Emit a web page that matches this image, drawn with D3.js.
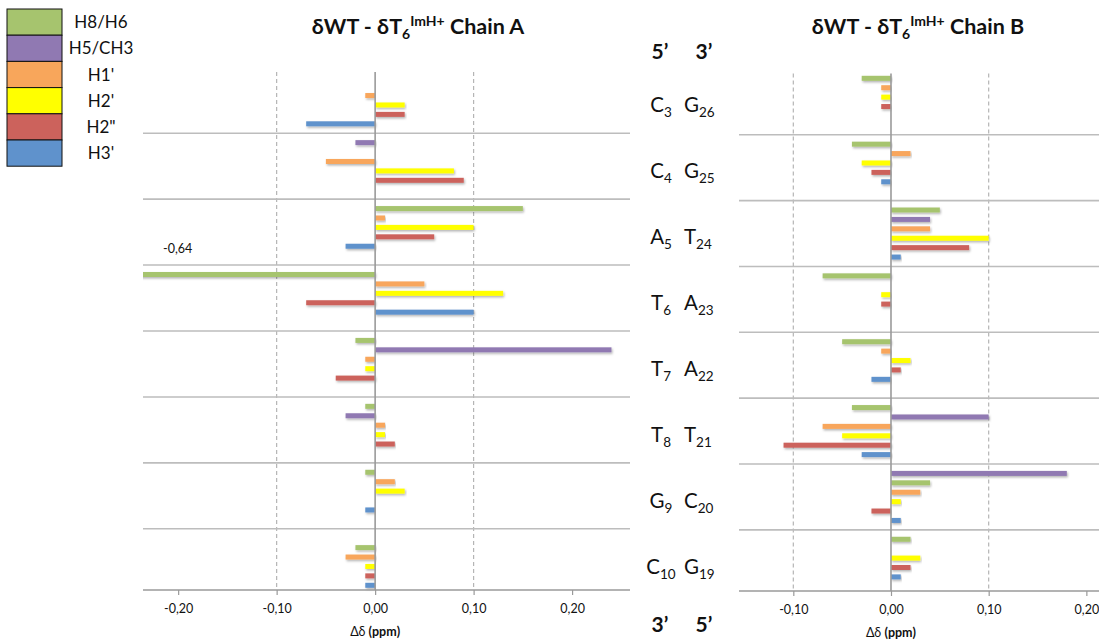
<!DOCTYPE html>
<html>
<head>
<meta charset="utf-8">
<script src="https://cdn.jsdelivr.net/npm/d3@7"></script>
<style>
  body { margin: 0; background: #fff; }
  svg { display: block; }
  text { font-family: Lato, "Open Sans", "DejaVu Sans", sans-serif; fill: #111; }
</style>
</head>
<body>
<svg id="chart" width="1099" height="644"></svg>
<script>
// Proton series and their colours
const protons = ["H8/H6", "H5/CH3", "H1'", "H2'", "H2\"", "H3'"];
const protonColors = ["#A6C46E", "#9079B2", "#F8A65B", "#FFFF00", "#CC625C", "#5F92CC"];

// Order of proton rows inside one residue block
const slotsC = ["H5/CH3", "H8/H6", "H1'", "H2'", "H2\"", "H3'"];
const slotsT = ["H8/H6", "H5/CH3", "H1'", "H2'", "H2\"", "H3'"];
const slotsPur = ["H8/H6", "H1'", "H2'", "H2\"", "H3'", "-"];
const slotsT6 = ["H8/H6", "H1'", "H2'", "H2\"", "H3'", "H5/CH3"];

// Chain A (5'→3'), Δδ in ppm per proton row, null = not observed
const residuesA = ["C3", "C4", "A5", "T6", "T7", "T8", "G9", "C10"];
const slotsA = [slotsC, slotsC, slotsPur, slotsT6, slotsT, slotsT, slotsPur, slotsC];
const shiftsA = [
  [null, null, -0.01, 0.03, 0.03, -0.07],
  [-0.02, null, -0.05, 0.08, 0.09, null],
  [0.15, 0.01, 0.10, 0.06, -0.03, null],
  [-0.64, 0.05, 0.13, -0.07, 0.10, null],
  [-0.02, 0.24, -0.01, -0.01, -0.04, null],
  [-0.01, -0.03, 0.01, 0.01, 0.02, null],
  [-0.01, 0.02, 0.03, null, -0.01, null],
  [null, -0.02, -0.03, -0.01, -0.01, -0.01]
];

// Chain B (3'→5' going down), paired with chain A residues
const residuesB = ["G26", "G25", "T24", "A23", "A22", "T21", "C20", "G19"];
const slotsB = [slotsPur, slotsPur, slotsT, slotsPur, slotsPur, slotsT, slotsC, slotsPur];
const shiftsB = [
  [-0.03, -0.01, -0.01, -0.01, null, null],
  [-0.04, 0.02, -0.03, -0.02, -0.01, null],
  [0.05, 0.04, 0.04, 0.10, 0.08, 0.01],
  [-0.07, null, -0.01, -0.01, null, null],
  [-0.05, -0.01, 0.02, 0.01, -0.02, null],
  [-0.04, 0.10, -0.07, -0.05, -0.11, -0.03],
  [0.18, 0.04, 0.03, 0.01, -0.02, 0.01],
  [0.02, null, 0.03, 0.02, 0.01, null]
];

const ticksA = [-0.2, -0.1, 0, 0.1, 0.2];
const ticksB = [-0.1, 0, 0.1, 0.2];
const gridA = [-0.1, 0.1];
const gridB = [-0.1, 0.1];

const svg = d3.select("#chart");
const color = d3.scaleOrdinal().domain(protons).range(protonColors);
const locale = d3.formatLocale({ decimal: ",", thousands: ".", grouping: [3], currency: ["", ""], minus: "-" });
const fmt = locale.format(".2f");

// soft drop shadow under the bars
const defs = svg.append("defs");
const shadow = defs.append("filter").attr("id", "barShadow")
  .attr("x", "-5%").attr("y", "-60%").attr("width", "110%").attr("height", "260%");
shadow.append("feDropShadow").attr("dx", 1).attr("dy", 1.5)
  .attr("stdDeviation", 0.9).attr("flood-color", "#000").attr("flood-opacity", 0.3);

function buildRows(residues, slots, shifts) {
  const rows = [];
  const bars = [];
  residues.forEach((res, i) => {
    if (i > 0) rows.push(res + "|gap");
    slots[i].forEach((p, k) => {
      const id = res + "|" + k;
      rows.push(id);
      const v = shifts[i][k];
      if (v !== null && p !== "-") bars.push({ id, res, proton: p, value: v });
    });
  });
  return { rows, bars };
}

function drawChain(opts) {
  const { residues, slots, shifts, xDomain, xRange, yRange, ticks, grid, title, id } = opts;
  const { rows, bars } = buildRows(residues, slots, shifts);
  const x = d3.scaleLinear().domain(xDomain).range(xRange);
  const y = d3.scaleBand().domain(rows).range(yRange);
  const g = svg.append("g");
  const [top, bottom] = yRange;
  const plotRight = Math.min(xRange[1], 1099);

  defs.append("clipPath").attr("id", "clip" + id)
    .append("rect").attr("x", xRange[0]).attr("y", top - 5)
    .attr("width", xRange[1] - xRange[0]).attr("height", bottom - top + 10);

  // dashed value gridlines
  g.selectAll("line.grid").data(grid).join("line")
    .attr("x1", d => x(d)).attr("x2", d => x(d))
    .attr("y1", top).attr("y2", bottom)
    .attr("stroke", "#b5b5b5").attr("stroke-width", 1.2).attr("stroke-dasharray", "4,3");

  // separators between base pairs (centre of the spacer rows)
  const gaps = rows.filter(r => r.endsWith("|gap"));
  g.selectAll("line.sep").data(gaps).join("line")
    .attr("x1", xRange[0]).attr("x2", plotRight)
    .attr("y1", d => y(d) + y.bandwidth() / 2).attr("y2", d => y(d) + y.bandwidth() / 2)
    .attr("stroke", "#bdbdbd").attr("stroke-width", 1.6);

  // bars
  const barH = 5;
  g.append("g").attr("clip-path", "url(#clip" + id + ")")
    .selectAll("rect").data(bars).join("rect")
    .attr("x", d => x(Math.min(0, d.value)))
    .attr("width", d => Math.abs(x(d.value) - x(0)))
    .attr("y", d => y(d.id) + (y.bandwidth() - barH) / 2)
    .attr("height", barH)
    .attr("fill", d => color(d.proton))
    .attr("filter", "url(#barShadow)");

  // zero line
  g.append("line")
    .attr("x1", x(0)).attr("x2", x(0)).attr("y1", top).attr("y2", bottom)
    .attr("stroke", "#9a9a9a").attr("stroke-width", 1.6);

  // value axis
  const axis = g.append("g").attr("transform", `translate(0,${bottom})`)
    .call(d3.axisBottom(x).tickValues(ticks).tickFormat(fmt).tickSize(5).tickSizeOuter(0).tickPadding(9));
  axis.select(".domain").attr("stroke", "#9a9a9a").attr("stroke-width", 1.6)
    .attr("d", `M${xRange[0]},0H${plotRight}`);
  axis.selectAll(".tick line").attr("stroke", "#9a9a9a").attr("stroke-width", 1.2);
  axis.selectAll(".tick text").attr("font-size", 12.5).attr("fill", "#222")
    .style("font-family", "Lato, 'Open Sans', sans-serif");

  // axis title
  const at = g.append("text").attr("x", x(0)).attr("y", bottom + 46)
    .attr("text-anchor", "middle").attr("font-size", 12.5);
  at.append("tspan").text("Δδ ");
  at.append("tspan").attr("font-weight", "bold").text("(ppm)");

  // chart title
  const t = g.append("text").attr("x", title.x).attr("y", 34)
    .attr("text-anchor", "middle").attr("font-size", 21.5).attr("font-weight", "bold");
  t.append("tspan").text("δWT - δT");
  t.append("tspan").attr("font-size", 14).attr("dy", 5).text("6");
  t.append("tspan").attr("font-size", 14).attr("dy", -13).text("ImH+");
  t.append("tspan").attr("dy", 8).text(" Chain " + title.chain);

  return { x, y, bars, rows };
}

const A = drawChain({
  id: "A",
  residues: residuesA, slots: slotsA, shifts: shiftsA,
  xDomain: [-0.2357, 0.2588], xRange: [143, 630], yRange: [72, 590],
  ticks: ticksA, grid: gridA, title: { x: 418, chain: "A" }
});

const B = drawChain({
  id: "B",
  residues: residuesB, slots: slotsB, shifts: shiftsB,
  xDomain: [-0.1556, 0.2242], xRange: [739, 1110], yRange: [73.6, 591],
  ticks: ticksB, grid: gridB, title: { x: 918, chain: "B" }
});

// value label for the off-scale bar in chain A
A.bars.filter(d => A.x(d.value) < A.x.range()[0]).forEach(d => {
  svg.append("text")
    .attr("x", A.x.range()[0] + 20)
    .attr("y", A.y(d.id) - 17)
    .attr("font-size", 12.5).attr("fill", "#222")
    .text(fmt(d.value));
});

// base-pair labels between the two panels
function residueLabel(sel, code) {
  sel.append("tspan").text(code[0]);
  sel.append("tspan").attr("font-size", 13.5).attr("dy", 5).text(code.slice(1));
}
const mid = svg.append("g");
residuesA.forEach((res, i) => {
  const first = A.y(res + "|0");
  const last = A.y(res + "|5") + A.y.bandwidth();
  const yc = (first + last) / 2 + 12;
  const left = mid.append("text").attr("x", 661).attr("y", yc)
    .attr("text-anchor", "middle").attr("font-size", 20.5);
  residueLabel(left, res);
  const right = mid.append("text").attr("x", 684).attr("y", yc)
    .attr("text-anchor", "start").attr("font-size", 20.5);
  residueLabel(right, residuesB[i]);
});
const ends = [["5’", "3’", 59], ["3’", "5’", 632]];
ends.forEach(([l, r, yy]) => {
  mid.append("text").attr("x", 660).attr("y", yy).attr("text-anchor", "middle")
    .attr("font-size", 21).attr("font-weight", "bold").text(l);
  mid.append("text").attr("x", 704).attr("y", yy).attr("text-anchor", "middle")
    .attr("font-size", 21).attr("font-weight", "bold").text(r);
});

// legend
const legend = svg.append("g");
const boxH = 26.2;
legend.selectAll("rect").data(protons).join("rect")
  .attr("x", 7).attr("y", (d, i) => 9 + i * boxH)
  .attr("width", 55).attr("height", boxH)
  .attr("fill", d => color(d)).attr("stroke", "#111").attr("stroke-width", 1);
legend.selectAll("text").data(protons).join("text")
  .attr("x", 101).attr("y", (d, i) => 9 + i * boxH + boxH / 2 + 6)
  .attr("text-anchor", "middle").attr("font-size", 17).attr("fill", "#222")
  .text(d => d);
</script>
</body>
</html>
